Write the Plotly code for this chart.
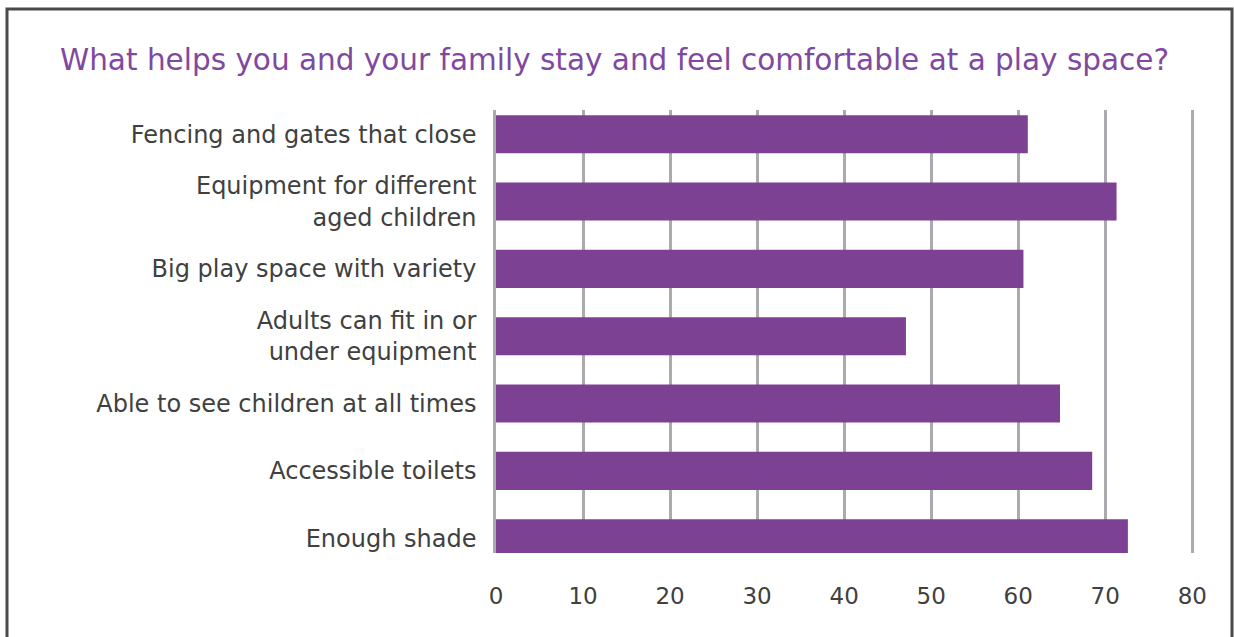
import plotly.graph_objects as go

categories = [
    "Fencing and gates that close",
    "Equipment for different<br>aged children",
    "Big play space with variety",
    "Adults can fit in or<br>under equipment",
    "Able to see children at all times",
    "Accessible toilets",
    "Enough shade",
]
values = [61.1, 71.3, 60.6, 47.1, 64.8, 68.5, 72.6]
x_ticks = [0, 10, 20, 30, 40, 50, 60, 70, 80]

title_text = "What helps you and your family stay and feel comfortable at a play space?"

W, H = 1234, 637
x_max = 81
px_per_unit = 8.7
ml, mt, mb = 496, 110, 84
pw = round(px_per_unit * x_max)
mr = W - ml - pw
ph = H - mt - mb

fig = go.Figure(
    go.Bar(
        x=values,
        y=categories,
        orientation="h",
        marker=dict(color="#7D4194", line=dict(width=0)),
        width=0.565,
        cliponaxis=False,
        hoverinfo="x+y",
    )
)

font_family = "DejaVu Sans, Verdana, sans-serif"

fig.update_layout(
    width=W,
    height=H,
    margin=dict(l=ml, r=mr, t=mt, b=mb),
    paper_bgcolor="white",
    plot_bgcolor="white",
    showlegend=False,
    font=dict(family=font_family, color="#404040", size=24),
    title=dict(
        text=title_text,
        xref="container",
        yref="container",
        x=60 / W,
        xanchor="left",
        y=1 - 60 / H,
        yanchor="middle",
        font=dict(family=font_family, size=29.5, color="#8049A0"),
    ),
    xaxis=dict(
        range=[0, x_max],
        tickvals=x_ticks,
        ticktext=[str(t) for t in x_ticks],
        showgrid=True,
        gridcolor="#ABABAF",
        gridwidth=2.5,
        zeroline=False,
        showline=False,
        ticks="",
        ticklabelstandoff=27,
        tickfont=dict(size=23, color="#404040"),
        fixedrange=True,
    ),
    yaxis=dict(
        categoryorder="array",
        categoryarray=categories,
        range=[6.22, -0.36],
        showgrid=False,
        zeroline=False,
        showline=True,
        linecolor="#ABABAF",
        linewidth=2.5,
        ticks="",
        ticklabelstandoff=12,
        tickfont=dict(size=24, color="#404040"),
        fixedrange=True,
    ),
)

# outer frame around the whole chart
x0 = (7 - ml) / pw
x1 = (1232 - ml) / pw
y_top = (H - mb - 9) / ph
y_bot = -0.5
fig.add_shape(
    type="rect",
    xref="paper",
    yref="paper",
    x0=x0,
    x1=x1,
    y0=y_bot,
    y1=y_top,
    line=dict(color="#4A4A4A", width=3),
    fillcolor="rgba(0,0,0,0)",
    layer="below",
)

fig.write_html(
    "out.html",
    config={"displayModeBar": False},
    post_script="document.body.style.margin='0';document.body.style.overflow='hidden';",
)
